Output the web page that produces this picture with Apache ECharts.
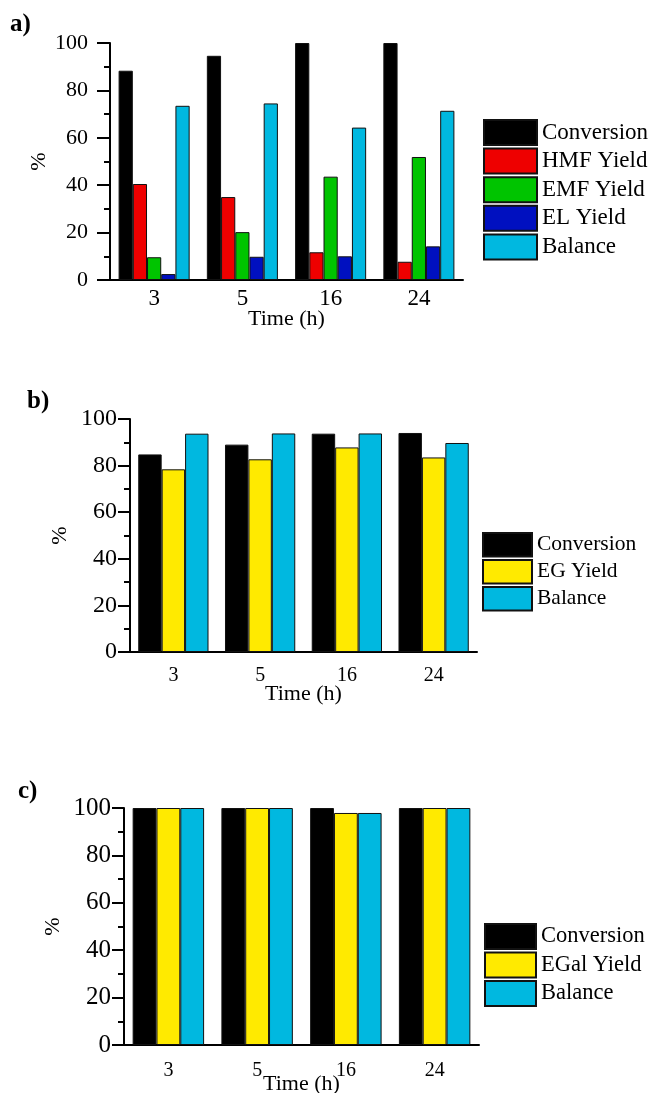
<!DOCTYPE html>
<html><head><meta charset="utf-8">
<script src="https://cdn.jsdelivr.net/npm/echarts@6/dist/echarts.min.js"></script>
<style>html,body{margin:0;padding:0;background:#fff}#c{width:651px;height:1093px}</style>
</head><body><div id="c"></div>
<script>
const timeLabels = ['3', '5', '16', '24'];
// panel a
const aConversion = [88.3, 94.6, 100, 100];
const aHMF = [40.5, 35.0, 11.7, 7.7];
const aEMF = [9.6, 20.2, 43.6, 51.9];
const aEL = [2.5, 9.8, 10.0, 14.2];
const aBalance = [73.5, 74.5, 64.3, 71.4];
// panel b
const bConversion = [84.8, 89.0, 93.7, 94.0];
const bEG = [78.4, 82.7, 87.8, 83.5];
const bBalance = [93.7, 93.8, 93.8, 89.7];
// panel c
const cConversion = [100, 100, 100, 100];
const cEGal = [100, 100, 97.9, 100];
const cBalance = [100, 100, 97.9, 100];

const FONT = "'Liberation Serif', 'Times New Roman', serif";
const COL = {conv:'#000000', hmf:'#ee0000', emf:'#00c400', el:'#0010c0', bal:'#00b8e0', yel:'#ffea00'};

function bar(name, data, color, idx, gap) {
  return {type:'bar', name, data, xAxisIndex:idx, yAxisIndex:idx, barGap:'0%', barCategoryGap:gap,
    itemStyle:{color, borderColor:'#111', borderWidth:1}, emphasis:{disabled:true}, animation:false};
}
function xAx(idx, fs, margin, nameGap) {
  return {type:'category', gridIndex:idx, data:timeLabels, name:'Time (h)', nameLocation:'middle', nameGap,
    nameMoveOverlap:false,
    nameTextStyle:{fontFamily:FONT, fontSize:22, color:'#000'},
    axisLine:{lineStyle:{color:'#000', width:2}}, axisTick:{show:false},
    axisLabel:{fontFamily:FONT, fontSize:fs, color:'#000', margin}, splitLine:{show:false}};
}
function yAx(idx, fs, margin, tickLen, nameGap) {
  return {type:'value', gridIndex:idx, min:0, max:100, interval:20, name:'%', nameLocation:'middle', nameRotate:90, nameGap,
    nameMoveOverlap:false,
    nameTextStyle:{fontFamily:FONT, fontSize:22, color:'#000'},
    axisLine:{show:true, lineStyle:{color:'#000', width:2}},
    axisTick:{show:true, length:tickLen, lineStyle:{color:'#000', width:2}},
    minorTick:{show:true, splitNumber:2, length:6, lineStyle:{color:'#000', width:2}},
    axisLabel:{fontFamily:FONT, fontSize:fs, color:'#000', margin}, splitLine:{show:false}};
}
function leg(names, left, top, w, h, gap, fs) {
  return {orient:'vertical', left, top, padding:0, itemWidth:w, itemHeight:h, itemGap:gap, icon:'rect', data:names,
    selectedMode:false, itemStyle:{borderColor:'#111', borderWidth:2},
    textStyle:{fontFamily:FONT, fontSize:fs, color:'#000', lineHeight:h}};
}
function ttl(text, left, top) {
  return {text, left, top, padding:0, textStyle:{fontFamily:FONT, fontSize:25, fontWeight:'bold', color:'#000'}};
}

const option = {
  animation:false,
  backgroundColor:'#fff',
  title:[ttl('a)', 10, 12), ttl('b)', 27, 389), ttl('c)', 18, 779)],
  grid:[
    {left:110, right:188, top:43, height:237, outerBoundsMode:'none', containLabel:false},
    {left:130, right:174, top:419, height:233, outerBoundsMode:'none', containLabel:false},
    {left:124, right:172, top:808, height:237, outerBoundsMode:'none', containLabel:false}
  ],
  xAxis:[xAx(0, 23, 7, 28), xAx(1, 20, 14, 31), xAx(2, 20, 16, 28)],
  yAxis:[yAx(0, 22, 22, 13, 60), yAx(1, 24, 13, 12, 59), yAx(2, 25, 13, 12, 60)],
  legend:[
    leg(['Conversion','HMF Yield','EMF Yield','EL Yield','Balance'], 483, 119, 53, 25, 1.6, 23),
    leg(['Conversion','EG Yield','Balance'], 482, 532, 49, 23.5, 1.5, 21.5),
    leg(['Conversion','EGal Yield','Balance'], 484, 923, 51, 25, 1.5, 22.5)
  ],
  series:[
    bar('Conversion', aConversion, COL.conv, 0, '19.5%'),
    bar('HMF Yield', aHMF, COL.hmf, 0, '19.5%'),
    bar('EMF Yield', aEMF, COL.emf, 0, '19.5%'),
    bar('EL Yield', aEL, COL.el, 0, '19.5%'),
    bar('Balance', aBalance, COL.bal, 0, '19.5%'),
    bar('Conversion', bConversion, COL.conv, 1, '19%'),
    bar('EG Yield', bEG, COL.yel, 1, '19%'),
    bar('Balance', bBalance, COL.bal, 1, '19%'),
    bar('Conversion', cConversion, COL.conv, 2, '19.5%'),
    bar('EGal Yield', cEGal, COL.yel, 2, '19.5%'),
    bar('Balance', cBalance, COL.bal, 2, '19.5%')
  ]
};
const chart = echarts.init(document.getElementById('c'), null, {renderer:'canvas'});
chart.setOption(option);
</script></body></html>
